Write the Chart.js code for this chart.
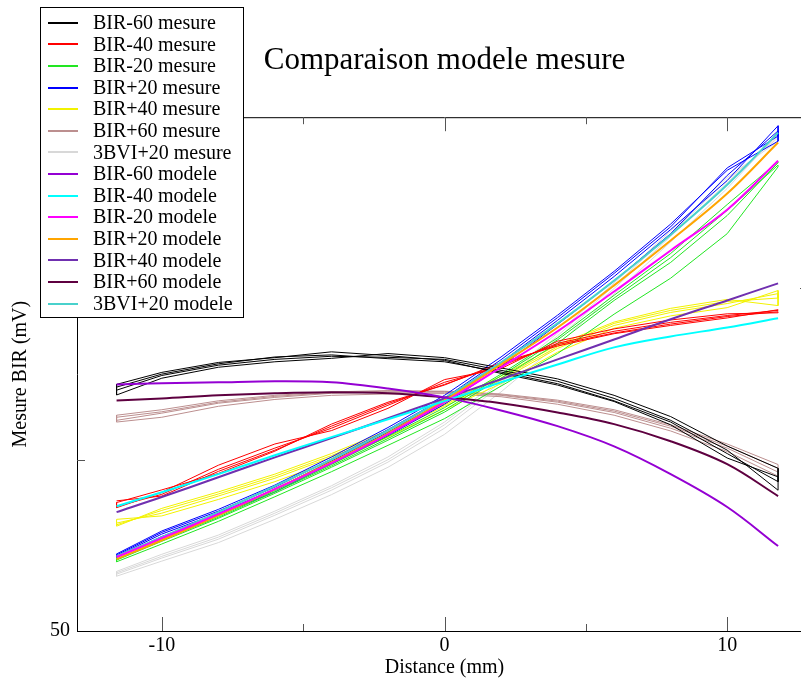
<!DOCTYPE html>
<html>
<head>
<meta charset="utf-8">
<script src="https://cdn.jsdelivr.net/npm/chart.js@4.4.1/dist/chart.umd.min.js"></script>
<style>
  html, body { margin: 0; padding: 0; background: #fff; overflow: hidden; }
  #wrap { width: 801px; height: 683px; overflow: hidden; }
</style>
</head>
<body>
<div id="wrap"><canvas id="cmpChart" width="812" height="683"></canvas></div>
<script>
// Distances (mm) des points de mesure, dans le sens aller
const distances = [-11.6, -10, -8, -6, -4, -2, 0, 2, 4, 6, 8, 10, 11.8];

// Mesures : plusieurs passages (aller / retour) par configuration
const bir60Mesure = [
    [120.3, 124.6, 127.6, 129.3, 130.2, 129.9, 129.3, 126.1, 122.9, 117.9, 111.5, 102.8, 91.1],
    [122.0, 125.5, 128.4, 129.8, 131.5, 130.4, 129.0, 125.2, 121.8, 117.0, 110.2, 100.5, 95.0],
    [118.9, 123.8, 127.0, 128.6, 129.6, 131.0, 129.8, 126.8, 123.6, 118.8, 112.6, 104.0, 97.5],
    [121.2, 125.0, 128.0, 130.0, 130.6, 129.5, 128.6, 125.6, 122.2, 117.2, 111.0, 101.8, 93.6]
];
const bir40Mesure = [
    [86.4, 89.9, 97.2, 103.4, 109.2, 115.9, 122.6, 127.3, 134.0, 137.5, 140.1, 142.1, 143.6],
    [87.5, 91.2, 96.0, 102.5, 110.4, 116.8, 121.8, 128.4, 133.2, 136.8, 139.2, 141.4, 143.8],
    [86.0, 90.5, 98.4, 104.6, 108.5, 115.0, 123.4, 126.6, 134.6, 138.2, 140.8, 142.6, 142.9],
    [88.0, 89.4, 96.6, 102.8, 109.8, 116.4, 122.0, 127.8, 133.6, 137.0, 139.6, 141.8, 143.2]
];
const bir20Mesure = [
    [70.7, 76.2, 82.9, 90.2, 97.8, 105.7, 113.9, 123.8, 134.0, 146.5, 157.6, 171.3, 186.7],
    [71.5, 77.0, 83.6, 91.0, 98.6, 106.8, 115.2, 125.0, 135.6, 148.0, 160.2, 174.5, 187.0],
    [70.2, 75.4, 82.0, 89.2, 96.5, 104.2, 112.0, 121.5, 131.0, 142.5, 153.0, 166.0, 185.5],
    [71.0, 76.6, 83.2, 90.6, 98.2, 106.2, 114.5, 124.5, 135.0, 147.2, 159.0, 172.8, 186.0]
];
const birP20Mesure = [
    [71.9, 78.3, 84.4, 91.4, 99.6, 108.0, 117.3, 128.4, 140.7, 153.5, 167.2, 181.5, 197.5],
    [72.5, 79.2, 85.5, 92.6, 100.8, 109.4, 118.8, 130.0, 142.2, 155.0, 168.8, 184.5, 193.0],
    [71.5, 77.6, 83.8, 90.6, 98.8, 107.0, 116.2, 127.2, 139.5, 152.2, 166.0, 183.0, 196.0],
    [72.2, 78.8, 85.0, 92.0, 100.2, 108.8, 118.0, 129.2, 141.5, 154.4, 168.0, 185.2, 194.5]
];
const birP40Mesure = [
    [81.5, 84.4, 89.4, 94.6, 100.7, 107.7, 115.6, 123.2, 132.5, 139.2, 143.0, 145.6, 148.5],
    [80.6, 85.8, 90.6, 95.8, 101.8, 108.6, 116.4, 124.4, 133.6, 140.2, 144.2, 146.8, 145.0],
    [82.6, 83.6, 88.4, 93.6, 99.6, 106.6, 114.6, 122.2, 131.4, 138.4, 142.0, 144.4, 149.4],
    [81.0, 85.2, 90.0, 95.2, 101.2, 108.2, 116.0, 123.8, 133.0, 139.8, 143.6, 146.2, 147.2]
];
const birP60Mesure = [
    [111.5, 113.6, 116.5, 118.2, 119.4, 119.7, 119.7, 118.8, 116.8, 113.8, 109.2, 103.4, 96.4],
    [113.0, 114.6, 117.2, 118.8, 119.8, 120.2, 120.0, 119.2, 117.4, 114.6, 110.2, 104.6, 98.6],
    [111.0, 112.4, 115.6, 117.6, 118.8, 119.2, 119.3, 118.4, 116.2, 113.0, 108.4, 102.4, 95.2],
    [112.4, 114.0, 116.8, 118.5, 119.6, 120.0, 119.9, 119.0, 117.1, 114.2, 109.8, 104.0, 97.5]
];
const bvi20Mesure = [
    [66.6, 71.3, 76.8, 83.8, 91.1, 99.3, 109.2, 121.7, 135.4, 150.0, 165.2, 180.9, 194.6],
    [67.4, 72.4, 78.0, 85.0, 92.4, 100.8, 111.0, 123.5, 137.0, 151.6, 166.8, 182.4, 193.0],
    [66.0, 70.4, 75.8, 82.6, 89.8, 97.8, 107.4, 119.8, 133.6, 148.4, 163.6, 179.2, 195.2],
    [67.0, 71.8, 77.4, 84.4, 91.8, 100.0, 110.2, 122.6, 136.2, 150.8, 166.0, 181.6, 194.0]
];

// Courbes du modele
const bir60Modele  = [122.0, 122.3, 122.6, 122.9, 122.6, 120.8, 118.2, 114.4, 109.8, 103.9, 95.8, 86.2, 74.8];
const bir40Modele  = [86.4, 90.5, 95.8, 101.3, 106.6, 111.8, 117.1, 122.6, 127.8, 132.8, 136.0, 138.6, 141.3];
const bir20Modele  = [71.6, 77.1, 84.1, 91.4, 99.0, 107.4, 116.8, 127.0, 137.5, 149.1, 161.1, 173.0, 187.3];
const birP20Modele = [71.0, 76.5, 83.8, 91.4, 99.3, 107.7, 117.3, 127.8, 138.6, 150.9, 164.0, 177.7, 192.6];
const birP40Modele = [84.7, 89.1, 94.9, 100.7, 106.3, 112.1, 117.9, 123.5, 129.3, 135.1, 141.0, 146.5, 151.5];
const birP60Modele = [117.3, 117.9, 118.8, 119.4, 119.7, 119.4, 118.2, 116.5, 113.8, 110.4, 105.4, 98.7, 89.4];
const bvi20Modele  = [71.9, 77.4, 84.7, 92.3, 100.1, 108.6, 117.9, 128.4, 139.8, 152.3, 165.7, 180.3, 195.5];

// Graduations
const xTicks = [-10, 0, 10];
const xMinorTicks = [-5, 5];
const yTicks = [50, 100, 150, 200];

const seriesLabels = [
    "BIR-60 mesure", "BIR-40 mesure", "BIR-20 mesure", "BIR+20 mesure",
    "BIR+40 mesure", "BIR+60 mesure", "3BVI+20 mesure",
    "BIR-60 modele", "BIR-40 modele", "BIR-20 modele", "BIR+20 modele",
    "BIR+40 modele", "BIR+60 modele", "3BVI+20 modele"
];
const seriesColors = [
    '#000000', '#ff0000', '#22e622', '#0000ff', '#f2f200', '#bc8f8f', '#d8d8d8',
    '#9400d3', '#00ffff', '#ff00ff', '#ffa500', '#7030b0', '#5e0040', '#48d1cc'
];

// aller-retour : un passage sur deux est parcouru a l'envers
function sweepPoints(sweeps) {
    const pts = [];
    sweeps.forEach((s, i) => {
        const p = distances.map((x, j) => ({ x: x, y: s[j] }));
        if (i % 2 === 1) p.reverse();
        pts.push(...p);
    });
    return pts;
}
function curvePoints(vals) {
    return distances.map((x, j) => ({ x: x, y: vals[j] }));
}

const mesures = [bir60Mesure, bir40Mesure, bir20Mesure, birP20Mesure, birP40Mesure, birP60Mesure, bvi20Mesure];
const modeles = [bir60Modele, bir40Modele, bir20Modele, birP20Modele, birP40Modele, birP60Modele, bvi20Modele];

const datasets = [];
mesures.forEach((m, i) => datasets.push({
    label: seriesLabels[i],
    data: sweepPoints(m),
    borderColor: seriesColors[i],
    borderWidth: 1,
    showLine: true,
    pointRadius: 0,
    tension: 0,
    order: 1
}));
modeles.forEach((m, i) => datasets.push({
    label: seriesLabels[i + 7],
    data: curvePoints(m),
    borderColor: seriesColors[i + 7],
    borderWidth: 2,
    showLine: true,
    pointRadius: 0,
    tension: 0.35,
    order: 0
}));

// Graduations vers l'interieur + trait du haut
const axisDecor = {
    id: 'axisDecor',
    afterDatasetsDraw(chart) {
        const { ctx, chartArea: a, scales: { x, y } } = chart;
        ctx.save();
        ctx.strokeStyle = '#000';
        ctx.lineWidth = 1;
        ctx.beginPath();
        ctx.moveTo(a.left, a.top + 0.5);
        ctx.lineTo(a.right, a.top + 0.5);
        ctx.stroke();
        ctx.strokeStyle = '#555';
        ctx.beginPath();
        xTicks.forEach(v => {
            const px = Math.round(x.getPixelForValue(v)) + 0.5;
            ctx.moveTo(px, a.bottom); ctx.lineTo(px, a.bottom - 14);
            ctx.moveTo(px, a.top); ctx.lineTo(px, a.top + 14);
        });
        xMinorTicks.forEach(v => {
            const px = Math.round(x.getPixelForValue(v)) + 0.5;
            ctx.moveTo(px, a.bottom); ctx.lineTo(px, a.bottom - 7);
            ctx.moveTo(px, a.top); ctx.lineTo(px, a.top + 7);
        });
        const py1 = Math.round(y.getPixelForValue(yTicks[1])) + 0.5;
        ctx.moveTo(a.left, py1); ctx.lineTo(a.left + 8, py1);
        const py2 = Math.round(y.getPixelForValue(yTicks[2])) + 0.5;
        ctx.moveTo(a.right, py2); ctx.lineTo(a.right - 12, py2);
        ctx.stroke();
        ctx.restore();
    },
    afterDraw(chart) {
        // legende posee par-dessus le graphique
        const ctx = chart.ctx;
        ctx.save();
        ctx.fillStyle = '#fff';
        ctx.fillRect(40, 7, 203, 310);
        ctx.strokeStyle = '#000';
        ctx.lineWidth = 1;
        ctx.strokeRect(40.5, 7.5, 203, 310);
        ctx.font = "20px 'Liberation Serif'";
        ctx.textBaseline = 'middle';
        ctx.textAlign = 'left';
        chart.data.datasets.forEach((ds, i) => {
            const cy = 22.7 + i * 21.6;
            ctx.strokeStyle = ds.borderColor;
            ctx.lineWidth = 2;
            ctx.beginPath();
            ctx.moveTo(48, Math.round(cy));
            ctx.lineTo(78, Math.round(cy));
            ctx.stroke();
            ctx.fillStyle = '#000';
            ctx.fillText(ds.label, 93, cy + 1);
        });
        ctx.restore();
    }
};

Chart.defaults.font.family = "'Liberation Serif', serif";
Chart.defaults.color = '#000';

const ctx = document.getElementById('cmpChart').getContext('2d');
const cmpChart = new Chart(ctx, {
    type: 'scatter',
    data: { datasets: datasets },
    options: {
        responsive: false,
        animation: false,
        layout: { padding: 0 },
        plugins: {
            legend: { display: false },
            tooltip: { enabled: false },
            title: {
                display: true,
                text: 'Comparaison modele mesure',
                fullSize: false,
                font: { size: 31, weight: 'normal' },
                color: '#000',
                padding: { top: 42, bottom: 38 }
            }
        },
        scales: {
            x: {
                type: 'linear',
                min: -13,
                max: 13,
                afterBuildTicks: s => { s.ticks = xTicks.map(v => ({ value: v })); },
                afterFit: s => { s.height = 52; },
                grid: { display: true, drawOnChartArea: false, drawTicks: false },
                border: { display: true, color: '#000', width: 1 },
                ticks: { font: { size: 20 }, padding: 3, color: '#000' },
                title: { display: true, text: 'Distance (mm)', font: { size: 20 }, padding: { top: 0, bottom: 3 }, color: '#000' }
            },
            y: {
                type: 'linear',
                min: 50,
                max: 200,
                afterBuildTicks: s => { s.ticks = yTicks.map(v => ({ value: v })); },
                afterFit: s => { s.width = 77; },
                grid: { display: true, drawOnChartArea: false, drawTicks: false },
                border: { display: true, color: '#000', width: 1 },
                ticks: {
                    font: { size: 20 },
                    padding: 7,
                    color: '#000',
                    callback: v => (v === 50 ? '50' : '')
                },
                title: { display: true, text: 'Mesure BIR (mV)', font: { size: 20 }, padding: { top: 9, bottom: 0 }, color: '#000' }
            }
        }
    },
    plugins: [axisDecor]
});
</script>
</body>
</html>
